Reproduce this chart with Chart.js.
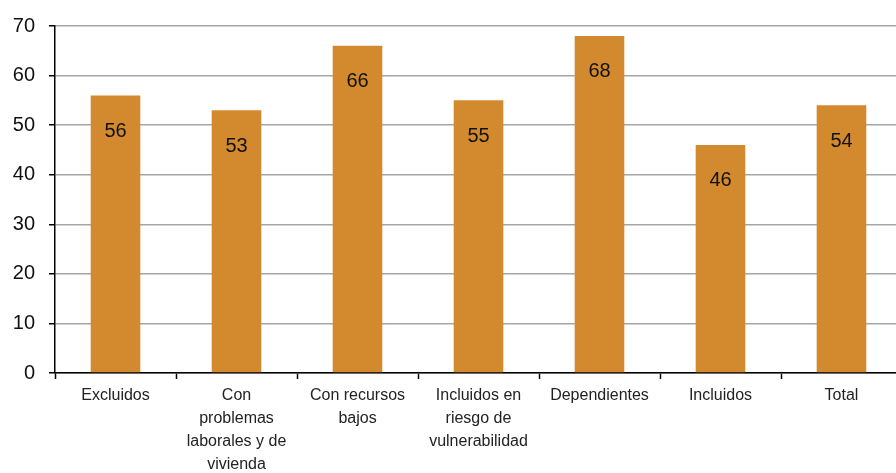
<!DOCTYPE html>
<html>
<head>
<meta charset="utf-8">
<script src="https://cdn.jsdelivr.net/npm/chart.js@4/dist/chart.umd.min.js"></script>
<style>
  html, body { margin: 0; padding: 0; background: #fff; overflow: hidden; }
  #wrap { width: 902px; height: 473px; position: relative; }
</style>
</head>
<body>
<div id="wrap"><canvas id="c"></canvas></div>
<script>
// Categories (multi-line labels) and values
const categories = [
  ['Excluidos'],
  ['Con', 'problemas', 'laborales y de', 'vivienda'],
  ['Con recursos', 'bajos'],
  ['Incluidos en', 'riesgo de', 'vulnerabilidad'],
  ['Dependientes'],
  ['Incluidos'],
  ['Total']
];
const values = [56, 53, 66, 55, 68, 46, 54];
const yTicks = [0, 10, 20, 30, 40, 50, 60, 70];

const FONT = '"Liberation Sans", Arial, sans-serif';

// Value labels drawn inside each bar, just below its top
const valueLabels = {
  id: 'valueLabels',
  afterDatasetsDraw(chart) {
    const ctx = chart.ctx;
    const meta = chart.getDatasetMeta(0);
    ctx.save();
    ctx.font = '20px ' + FONT;
    ctx.fillStyle = '#111';
    ctx.textAlign = 'center';
    ctx.textBaseline = 'middle';
    meta.data.forEach((bar, i) => {
      ctx.fillText(String(values[i]), bar.x, bar.y + 36);
    });
    ctx.restore();
  }
};

new Chart(document.getElementById('c'), {
  type: 'bar',
  data: {
    labels: categories,
    datasets: [{
      data: values,
      backgroundColor: '#D3892D',
      borderWidth: 0,
      barPercentage: 0.41,
      categoryPercentage: 1
    }]
  },
  options: {
    responsive: true,
    maintainAspectRatio: false,
    animation: false,
    layout: { padding: { top: 26, left: 0, right: 0, bottom: 0 } },
    plugins: { legend: { display: false }, tooltip: { enabled: false } },
    scales: {
      x: {
        offset: true,
        grid: {
          offset: true,
          drawOnChartArea: false,
          drawTicks: true,
          tickLength: 6,
          tickColor: '#000',
          tickWidth: 1.5
        },
        border: { color: '#000', width: 1.5 },
        ticks: {
          color: '#222',
          font: { family: FONT, size: 16, lineHeight: 1.44 },
          padding: 5,
          maxRotation: 0,
          autoSkip: false
        },
        afterFit(s) { s.height = 100; }
      },
      y: {
        min: 0,
        max: 70,
        afterBuildTicks(s) { s.ticks = yTicks.map(v => ({ value: v })); },
        grid: {
          color: '#a6a6a6',
          lineWidth: 1.5,
          tickLength: 6,
          tickColor: '#000',
          tickWidth: 1.5
        },
        border: { color: '#000', width: 1.5 },
        ticks: {
          color: '#111',
          font: { family: FONT, size: 20 },
          padding: 14
        },
        afterFit(s) { s.width = 55; }
      }
    }
  },
  plugins: [valueLabels]
});
</script>
</body>
</html>
